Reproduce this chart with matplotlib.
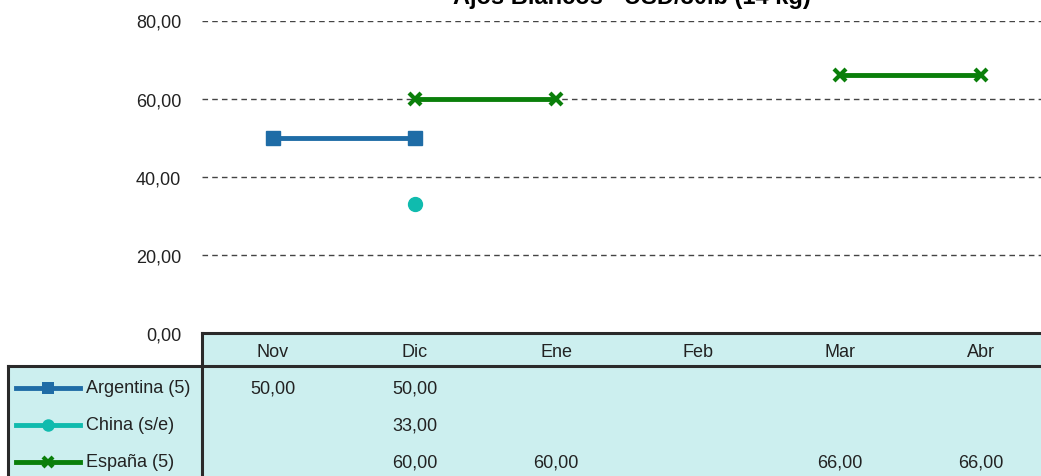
import numpy as np
import matplotlib
matplotlib.use("Agg")
import matplotlib.pyplot as plt
from matplotlib.transforms import blended_transform_factory
from matplotlib.lines import Line2D
from matplotlib.patches import Rectangle

plt.rcParams['font.family'] = ['Liberation Sans', 'DejaVu Sans']

# ── data ─────────────────────────────────────────────
months = ["Nov", "Dic", "Ene", "Feb", "Mar", "Abr"]
argentina = [50.0, 50.0, np.nan, np.nan, np.nan, np.nan]
china = [np.nan, 33.0, np.nan, np.nan, np.nan, np.nan]
espana = [np.nan, 60.0, 60.0, np.nan, 66.0, 66.0]

series = [
    ("Argentina (5)", argentina, "#1F6CA6", "s"),
    ("China (s/e)", china, "#10BBAE", "o"),
    ("España (5)", espana, "#0A7F0A", "x"),
]
yticks = [0, 20, 40, 60, 80]

W, H = 1041, 477
fig = plt.figure(figsize=(W / 100, H / 100), dpi=100)

def fy(py):
    # pixel row from top -> figure fraction
    return 1 - py / H

left_px, right_px, top_px, bot_px = 202, 1052, 21.5, 334.5
ax = fig.add_axes([left_px / W, fy(bot_px), (right_px - left_px) / W, (bot_px - top_px) / H])
ax.set_xlim(-0.5, len(months) - 0.5)
ax.set_ylim(0, 80)
for s in ax.spines.values():
    s.set_visible(False)
ax.set_xticks([])
ax.set_yticks(yticks)
ax.set_yticklabels([f"{v:.2f}".replace(".", ",") for v in yticks], fontsize=13, color="#222222")
ax.tick_params(axis="y", length=0, pad=15)
for v in yticks[1:]:
    ax.axhline(v, color="#444444", lw=1, ls=(0, (4, 3)), zorder=1)

x = np.arange(len(months))
for name, vals, col, mk in series:
    if mk == "x":
        ax.plot(x, vals, color=col, lw=3.5, marker="x", ms=8, mew=3, zorder=3, clip_on=False)
    else:
        ax.plot(x, vals, color=col, lw=3.5, marker=mk, ms=10, zorder=3, clip_on=False)

# title sits mostly above the top edge, as in the source chart
ax.text(632 / W, fy(4), "Ajos Blancos - USD/30lb (14 kg)", transform=fig.transFigure,
        ha="center", va="baseline", fontsize=17, fontweight="bold")

# ── data table ───────────────────────────────────────
fill = "#CCEFEF"
edge = "#2A2A2A"
hdr_top, hdr_bot = 334, 367
leg_left = 8
row_h = 37
fig.patches.append(Rectangle((left_px / W, fy(H + 10)), 1, fy(hdr_top) - fy(H + 10),
                             transform=fig.transFigure, facecolor=fill, edgecolor="none", zorder=0))
fig.patches.append(Rectangle((leg_left / W, fy(H + 10)), (left_px - leg_left) / W, fy(hdr_bot) - fy(H + 10),
                             transform=fig.transFigure, facecolor=fill, edgecolor="none", zorder=0))
lines = [
    ([left_px, W], [hdr_top, hdr_top]),
    ([leg_left, W], [hdr_bot, hdr_bot]),
    ([left_px, left_px], [hdr_top, H + 5]),
    ([leg_left, leg_left], [hdr_bot, H + 5]),
]
for xs, ys in lines:
    fig.lines.append(Line2D([v / W for v in xs], [fy(v) for v in ys], transform=fig.transFigure,
                            color=edge, lw=2.2))

bt = blended_transform_factory(ax.transData, fig.transFigure)
for i, m in enumerate(months):
    fig.text(i, fy((hdr_top + hdr_bot) / 2 + 2), m, transform=bt, ha="center", va="center",
             fontsize=13, color="#222222")

for r, (name, vals, col, mk) in enumerate(series):
    yc = fy(hdr_bot + 22 + r * row_h)
    for i, v in enumerate(vals):
        if not np.isnan(v):
            fig.text(i, yc, f"{v:.2f}".replace(".", ","), transform=bt, ha="center", va="center",
                     fontsize=13, color="#222222")
    fig.lines.append(Line2D([16 / W, 80 / W], [yc, yc], transform=fig.transFigure, color=col, lw=3.5))
    if mk == "x":
        fig.lines.append(Line2D([48 / W], [yc], transform=fig.transFigure, color=col, marker="x", ms=7, mew=3))
    else:
        fig.lines.append(Line2D([48 / W], [yc], transform=fig.transFigure, color=col, marker=mk, ms=9,
                                markeredgewidth=0))
    fig.text(86 / W, yc, name, transform=fig.transFigure, ha="left", va="center",
             fontsize=13, color="#222222")

fig.savefig("out.png", dpi=100)
